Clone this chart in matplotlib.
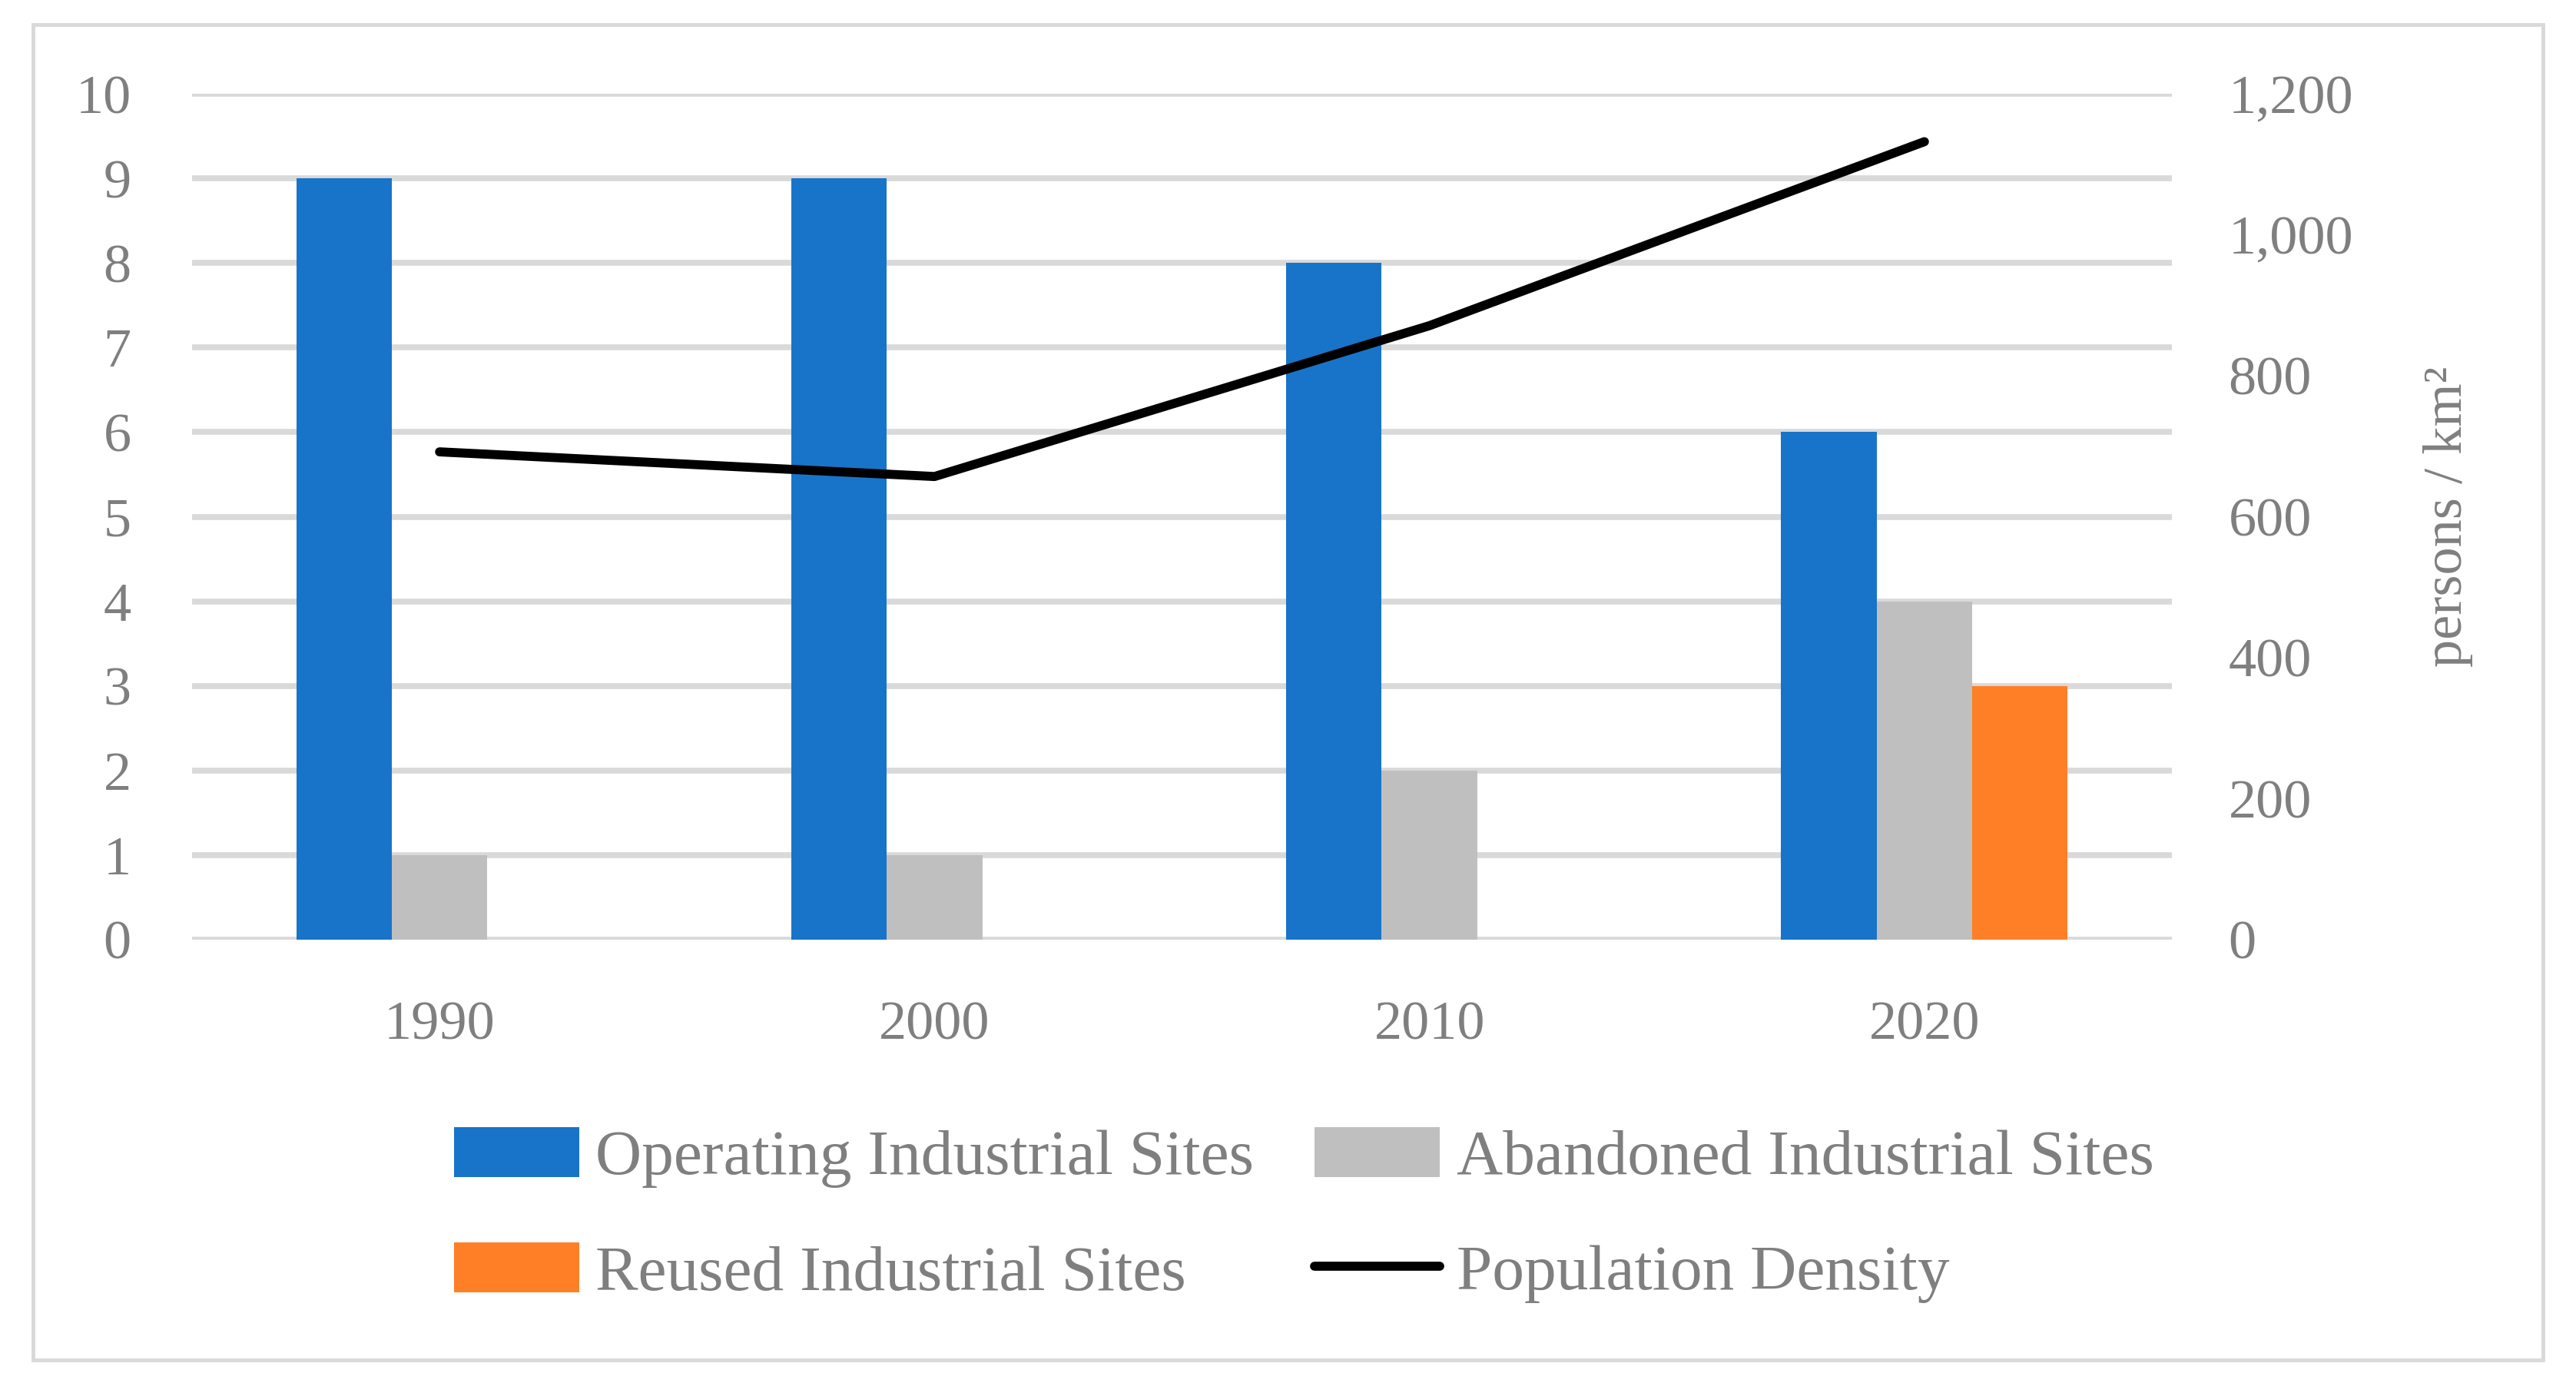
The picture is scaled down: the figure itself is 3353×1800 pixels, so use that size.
import numpy as np
import matplotlib
matplotlib.use('Agg')
import matplotlib.pyplot as plt
from matplotlib.patches import Rectangle

# chart data
years = ['1990', '2000', '2010', '2020']
operating = [9, 9, 8, 6]
abandoned = [1, 1, 2, 4]
reused = [0, 0, 0, 3]
density = [692, 657, 871, 1132]

leftTicks = list(range(0, 11))
rightTicks = [0, 200, 400, 600, 800, 1000, 1200]

plt.rcParams['font.family'] = ['Liberation Serif', 'DejaVu Serif']
textColor = '#7F7F7F'
gridColor = '#D9D9D9'
fs = 52

W, H = 3353, 1800
fig = plt.figure(figsize=(W / 100, H / 100), dpi=100)

#outer frame
fig.patches.append(Rectangle((43 / W, 1 - 1770 / H), (3310 - 43) / W, (1770 - 32) / H,
                             transform=fig.transFigure, fill=False,
                             edgecolor=gridColor, linewidth=3.5))

ax = fig.add_axes([250 / W, 1 - 1223 / H, (2827 - 250) / W, (1223 - 122) / H])
x = np.arange(len(years))
w = 0.193

b1 = ax.bar(x - w, operating, w, color='#1874C8', label='Operating Industrial Sites')
b2 = ax.bar(x, abandoned, w, color='#BFBFBF', label='Abandoned Industrial Sites')
b3 = ax.bar(x + w, reused, w, color='#FF7F27', label='Reused Industrial Sites')

ax.set_xlim(-0.5, len(years) - 0.5)
ax.set_ylim(0, 10)
ax.set_yticks(leftTicks)
ax.set_xticks(x)
ax.set_xticklabels(years)
ax.set_axisbelow(True)
ax.grid(axis='y', color=gridColor, linewidth=5.5)
for s in ax.spines.values():
    s.set_visible(False)
ax.tick_params(axis='both', length=0, labelsize=fs, labelcolor=textColor)
ax.tick_params(axis='y', pad=57)
ax.tick_params(axis='x', pad=57)

ax2 = ax.twinx()
ln, = ax2.plot(x, density, color='black', linewidth=8.5, label='Population Density',
               solid_capstyle='round')
ax2.set_ylim(0, 1200)
ax2.set_yticks(rightTicks)
ax2.set_yticklabels(['{:,}'.format(v) for v in rightTicks])
for s in ax2.spines.values():
    s.set_visible(False)
ax2.tick_params(axis='y', length=0, labelsize=fs, labelcolor=textColor, pad=53)
ax2.set_ylabel('persons / km²', fontsize=fs, color=textColor)
ax2.yaxis.set_label_coords((3154 - 250) / (2827 - 250), 0.5)

leg = fig.legend([b1, b3, b2, ln],
                 ['Operating Industrial Sites', 'Reused Industrial Sites',
                  'Abandoned Industrial Sites', 'Population Density'],
                 ncol=2, loc='upper left', bbox_to_anchor=(516 / W, 1 - 1392 / H),
                 frameon=False, fontsize=60, labelcolor=textColor,
                 handlelength=1.95, handleheight=0.82, handletextpad=0.26,
                 columnspacing=0.95, labelspacing=0.85)

plt.savefig('out.png', dpi=100)
